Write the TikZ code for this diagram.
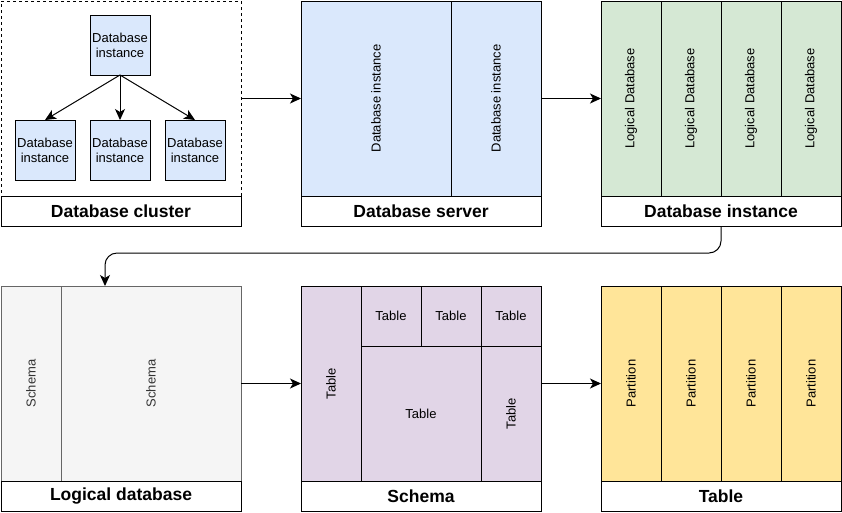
\documentclass[tikz,border=0pt]{standalone}
\usepackage{fontspec}
\setmainfont{Liberation Sans}
\usetikzlibrary{positioning}
\usetikzlibrary{arrows.meta}
\tikzset{>={Stealth[width=10pt,length=11pt,inset=3pt]}}

\definecolor{dbblue}{HTML}{DAE8FC}
\definecolor{dbgreen}{HTML}{D5E8D4}
\definecolor{dbgray}{HTML}{F5F5F5}
\definecolor{dbgrayline}{HTML}{666666}
\definecolor{dbgraytext}{HTML}{333333}
\definecolor{dbpurple}{HTML}{E1D5E7}
\definecolor{dbyellow}{HTML}{FFE599}

\begin{document}
\begin{tikzpicture}[x=1pt, y=-1pt, line width=1pt,
    frame/.style={minimum width=240pt, minimum height=195pt, inner sep=0pt, outer sep=0pt},
    caption/.style={draw, fill=white, minimum width=240pt, minimum height=30pt, inner sep=0pt, outer sep=0pt, font=\fontsize{17.5}{20}\selectfont\bfseries},
    cell/.style={draw, inner sep=0pt, outer sep=0pt, align=center, font=\fontsize{13}{15}\selectfont},
    vcell/.style={cell, rotate=90, anchor=north east},
    instnode/.style={cell, fill=dbblue, minimum size=60pt}]

    \useasboundingbox (0,0) rectangle (842,512);

    %Panels
    \node[frame, draw, dashed](cluster) at (121,98.5){};
    \node[frame](server) at (421,98.5){};
    \node[frame](instance) at (721,98.5){};
    \node[frame](logical) at (121,383.5){};
    \node[frame](schema) at (421,383.5){};
    \node[frame](table) at (721,383.5){};

    %Database cluster
    \node[instnode](inst_top) at (120,45){Database\\instance};
    \node[instnode](inst_mid)[below=45pt of inst_top]{Database\\instance};
    \node[instnode](inst_left)[left=15pt of inst_mid]{Database\\instance};
    \node[instnode](inst_right)[right=15pt of inst_mid]{Database\\instance};
    \node[caption](cluster_cap)[below=0pt of cluster]{Database cluster};

    %Database server
    \node[vcell, fill=dbblue, minimum width=195pt, minimum height=150pt](srv_a) at (server.north west){Database instance};
    \node[vcell, fill=dbblue, minimum width=195pt, minimum height=90pt](srv_b) at (srv_a.south east){Database instance};
    \node[caption](server_cap)[below=0pt of server]{Database server};

    %Database instance
    \node[vcell, fill=dbgreen, minimum width=195pt, minimum height=60pt](ldb_1) at (instance.north west){Logical Database};
    \node[vcell, fill=dbgreen, minimum width=195pt, minimum height=60pt](ldb_2) at (ldb_1.south east){Logical Database};
    \node[vcell, fill=dbgreen, minimum width=195pt, minimum height=60pt](ldb_3) at (ldb_2.south east){Logical Database};
    \node[vcell, fill=dbgreen, minimum width=195pt, minimum height=60pt](ldb_4) at (ldb_3.south east){Logical Database};
    \node[caption](instance_cap)[below=0pt of instance]{Database instance};

    %Logical database
    \node[vcell, draw=dbgrayline, fill=dbgray, text=dbgraytext, minimum width=195pt, minimum height=60pt](sch_a) at (logical.north west){Schema};
    \node[vcell, draw=dbgrayline, fill=dbgray, text=dbgraytext, minimum width=195pt, minimum height=180pt](sch_b) at (sch_a.south east){Schema};
    \node[caption](logical_cap)[below=0pt of logical]{Logical database};

    %Schema
    \node[vcell, fill=dbpurple, minimum width=195pt, minimum height=60pt](tbl_left) at (schema.north west){Table};
    \node[cell, fill=dbpurple, minimum size=60pt, anchor=north west](tbl_t1) at (tbl_left.south east){Table};
    \node[cell, fill=dbpurple, minimum size=60pt](tbl_t2)[right=0pt of tbl_t1]{Table};
    \node[cell, fill=dbpurple, minimum size=60pt](tbl_t3)[right=0pt of tbl_t2]{Table};
    \node[cell, fill=dbpurple, minimum width=120pt, minimum height=135pt, anchor=north west](tbl_mid) at (tbl_t1.south west){Table};
    \node[vcell, fill=dbpurple, minimum width=135pt, minimum height=60pt](tbl_right) at (tbl_t3.south west){Table};
    \node[caption](schema_cap)[below=0pt of schema]{Schema};

    %Table
    \node[vcell, fill=dbyellow, minimum width=195pt, minimum height=60pt](part_1) at (table.north west){Partition};
    \node[vcell, fill=dbyellow, minimum width=195pt, minimum height=60pt](part_2) at (part_1.south east){Partition};
    \node[vcell, fill=dbyellow, minimum width=195pt, minimum height=60pt](part_3) at (part_2.south east){Partition};
    \node[vcell, fill=dbyellow, minimum width=195pt, minimum height=60pt](part_4) at (part_3.south east){Partition};
    \node[caption](table_cap)[below=0pt of table]{Table};

    \coordinate (turn) at (105,253);

    %Lines
    \draw[->] (inst_top.south) -- (inst_left.north);
    \draw[->] (inst_top.south) -- (inst_mid.north);
    \draw[->] (inst_top.south) -- (inst_right.north);
    \draw[->] (cluster.east) -- (server.west);
    \draw[->] (server.east) -- (instance.west);
    \draw[->, rounded corners=12pt] (instance_cap.south) |- (turn) -- (turn |- logical.north);
    \draw[->] (logical.east) -- (schema.west);
    \draw[->] (schema.east) -- (table.west);

\end{tikzpicture}
\end{document}
